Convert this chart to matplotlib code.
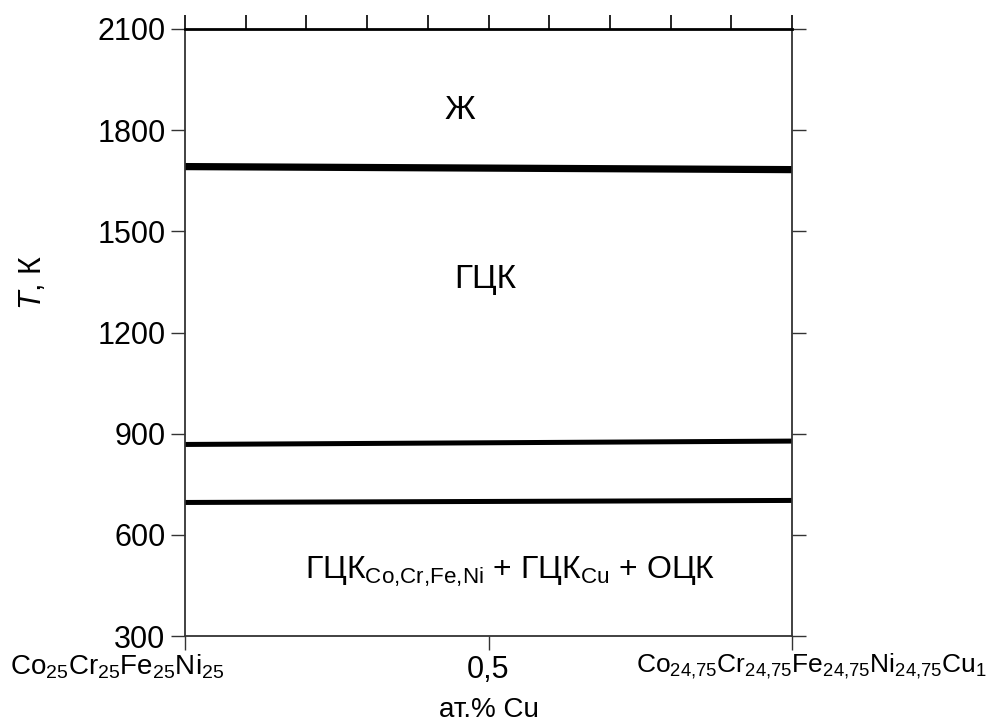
import numpy as np
import matplotlib
matplotlib.use("Agg")
import matplotlib.pyplot as plt

plt.rcParams['font.family'] = ['Liberation Sans', 'DejaVu Sans']
plt.rcParams['mathtext.fontset'] = 'custom'
plt.rcParams['mathtext.rm'] = 'Liberation Sans'
plt.rcParams['mathtext.it'] = 'Liberation Sans:italic'

# данные
x_ends = [0.0, 1.0]
t_liquidus = [1692, 1683]   # Ж / ГЦК
t_line2 = [868, 878]
t_line3 = [696, 702]

y_ticks = [300, 600, 900, 1200, 1500, 1800, 2100]
top_ticks = np.arange(0, 1.01, 0.1)
bottom_ticks = [0.0, 0.5, 1.0]
bottom_labels = ['', '0,5', '']
left_comp = r'Co$_{25}$Cr$_{25}$Fe$_{25}$Ni$_{25}$'
right_comp = r'Co$_{24{,}75}$Cr$_{24{,}75}$Fe$_{24{,}75}$Ni$_{24{,}75}$Cu$_{1}$'

fig = plt.figure(figsize=(10.01, 7.25), dpi=100)
ax = fig.add_axes([185/1001, 89/725, 607/1001, 607/725])

ax.plot(x_ends, t_liquidus, color='black', lw=5.2, solid_capstyle='butt')
ax.plot(x_ends, t_line2, color='black', lw=3.6, solid_capstyle='butt')
ax.plot(x_ends, t_line3, color='black', lw=3.6, solid_capstyle='butt')

ax.set_xlim(0, 1)
ax.set_ylim(300, 2100)
ax.set_yticks(y_ticks)
ax.set_xticks(bottom_ticks)
ax.set_xticklabels(bottom_labels)
ax.tick_params(direction='out', length=10, width=1, labelsize=22, pad=4,
               right=True, color='#333333')
for s in ax.spines.values():
    s.set_linewidth(1.3)
    s.set_color('#333333')
ax.spines['top'].set_linewidth(2)
ax.spines['top'].set_color('black')

top = ax.secondary_xaxis('top')
top.set_xticks(top_ticks)
top.set_xticklabels([])
top.tick_params(direction='out', length=10, width=1.2)
top.spines['top'].set_visible(False)

ax.text(-0.288, -0.05, left_comp, transform=ax.transAxes, fontsize=20,
        ha='left', va='center')
ax.text(0.743, -0.05, right_comp, transform=ax.transAxes, fontsize=19,
        ha='left', va='center')
ax.set_xlabel('ат.% Cu', fontsize=20)
ax.xaxis.set_label_coords(0.5, -0.122)
ax.xaxis.label.set_va('center')
ax.set_ylabel(r'$T$, К', fontsize=22)
ax.yaxis.set_label_coords(-0.225, 0.583)

ax.text(0.453, 1858, 'Ж', fontsize=24, ha='center', va='center')
ax.text(0.494, 1356, 'ГЦК', fontsize=24, ha='center', va='center')
ax.text(0.535, 490, r'ГЦК$_{\mathrm{Co{,}Cr{,}Fe{,}Ni}}$ + ГЦК$_{\mathrm{Cu}}$ + ОЦК',
        fontsize=23, ha='center', va='center')

fig.savefig('out.png', dpi=100)
